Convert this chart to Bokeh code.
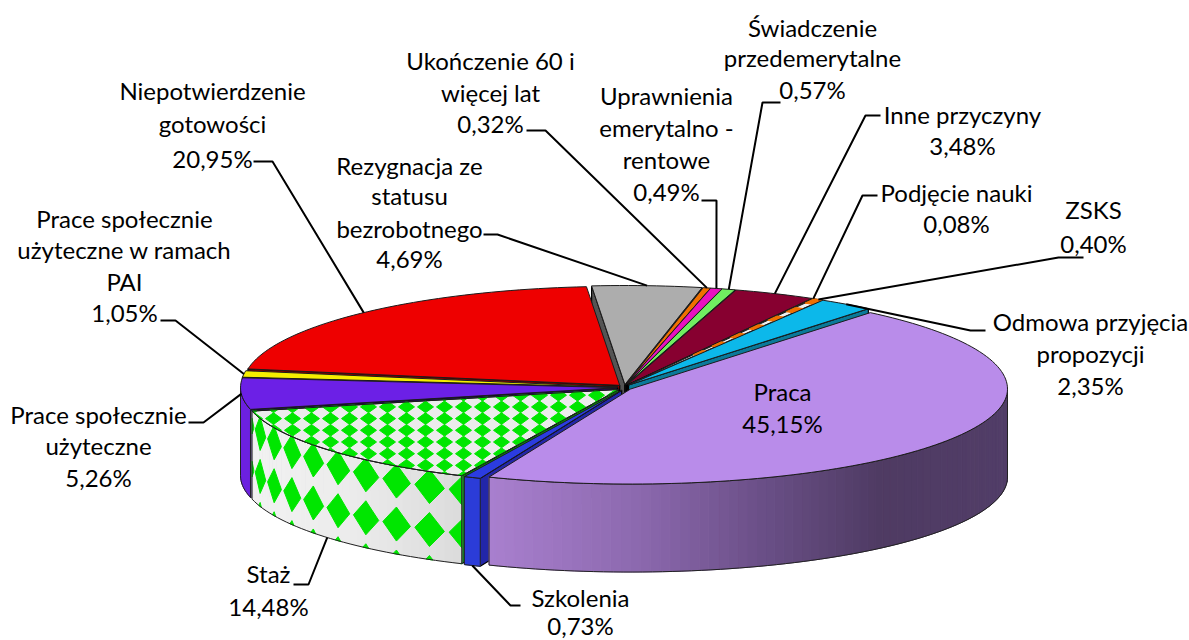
import numpy as np
from bokeh.plotting import figure
from bokeh.models import Range1d
from bokeh.core.properties import value
from bokeh.embed import file_html
from bokeh.resources import INLINE

# ---- data -----------------------------------------------------------------
categories = ["Praca", "Szkolenia", "Staż", "Prace społecznie użyteczne",
              "Prace społecznie użyteczne w ramach PAI", "Niepotwierdzenie gotowości",
              "Rezygnacja ze statusu bezrobotnego", "Ukończenie 60 i więcej lat",
              "Uprawnienia emerytalno - rentowe", "Świadczenie przedemerytalne",
              "Inne przyczyny", "Podjęcie nauki", "ZSKS", "Odmowa przyjęcia propozycji"]
values = [45.15, 0.73, 14.48, 5.26, 1.05, 20.95, 4.69, 0.32, 0.49, 0.57, 3.48, 0.08, 0.40, 2.35]
label_lines = [["Praca"], ["Szkolenia"], ["Staż"], ["Prace społecznie", "użyteczne"],
               ["Prace społecznie", "użyteczne w ramach", "PAI"],
               ["Niepotwierdzenie", "gotowości"], ["Rezygnacja ze", "statusu", "bezrobotnego"],
               ["Ukończenie 60 i", "więcej lat"], ["Uprawnienia", "emerytalno -", "rentowe"],
               ["Świadczenie", "przedemerytalne"], ["Inne przyczyny"], ["Podjęcie nauki"],
               ["ZSKS"], ["Odmowa przyjęcia", "propozycji"]]
top_colors = ["#b98cea", "#2b3ce0", "#ececec", "#6c20e6", "#f6ee00", "#ee0000", "#adadad",
              "#f07000", "#e812c0", "#70ee60", "#870030", "#f07000", "#f0f0f0", "#0cb8ea"]
wall_colors = ["#8a68ad", "#2b3cd8", "#e6e6e6", "#6c20e0", "#c0b800", "#b00000", "#808080",
               "#b05000", "#a00880", "#50b040", "#600020", "#b05000", "#c0c0c0", "#0a88aa"]
cut_colors = ["#6b5088", "#2226a8", "#0b8a0b", "#2a0d6e", "#8a8400", "#800000", "#545454",
              "#a04800", "#90087a", "#40a030", "#500018", "#a04800", "#a0a0a0", "#0a7a9a"]

# ---- layout ---------------------------------------------------------------
CX, CY, RX, RY_FRONT, RY_BACK, DEPTH = 624.0, 387.0, 377.0, 95.0, 99.0, 88.0
EX, EY, START = 7.0, 3.0, 39.5
draw_order = [6, 7, 8, 9, 10, 11, 12, 13, 5, 4, 3, 2, 1, 0]
label_pos = {  # centre x, y of each text line
    0: (782, [391, 423]), 1: (580, [597, 625]), 2: (268, [573, 606]),
    3: (98, [414, 445, 477]), 4: (124, [218, 249, 281, 312]), 5: (212, [90, 123, 158]),
    6: (409, [165, 195, 228, 258]), 7: (490, [60, 92, 123]), 8: (666, [95, 127, 159, 191]),
    9: (812, [27, 57, 89]), 10: (962, [114, 145]), 11: (956, [192, 223]),
    12: (1093, [209, 243]), 13: (1090, [321, 353, 385]),
}
leader_elbows = {  # text end, elbow; the third point is computed on the rim
    1: [(520, 605), (510, 605)], 2: [(293, 584), (308, 584)], 3: [(188, 422), (203, 422)],
    4: [(160, 320), (175, 320)], 5: [(253, 161), (272, 161)], 6: [(483, 234), (497, 234)],
    7: [(526, 130), (545, 130)], 8: [(701, 200), (716, 200)], 9: [(780, 102), (762, 102)],
    10: [(880, 115), (865, 115)], 11: [(877, 195), (862, 195)], 12: [(1083, 257), (1058, 257)],
    13: [(985, 330), (970, 330)],
}

W, H = 1189, 640
p = figure(width=W, height=H, x_range=Range1d(0, W), y_range=Range1d(H, 0),
           output_backend="svg", toolbar_location=None, min_border=0,
           background_fill_color="white", border_fill_color="white", outline_line_color=None)
p.axis.visible = False
p.grid.visible = False

total = sum(values)
edges = START + 360.0 * np.concatenate([[0], np.cumsum(values)]) / total


def centre(i):
    m = np.radians((edges[i] + edges[i + 1]) / 2)
    return CX + EX * np.sin(m), CY - EY * np.cos(m)


def rim(i, a, r=1.0, v=0.0):
    c = centre(i)
    t = np.radians(a)
    ry = RY_BACK if np.cos(t) > 0 else RY_FRONT
    return c[0] + r * RX * np.sin(t), c[1] - r * ry * np.cos(t) + v


def poly(pts, fill, line="#222222", lw=1.0):
    xs, ys = zip(*pts)
    p.patch(list(xs), list(ys), fill_color=fill, line_color=line if line else fill,
            line_width=lw if line else 1.0)


def clip(subject, clipper):
    """Sutherland-Hodgman against a convex polygon."""
    area = sum(clipper[k][0] * clipper[(k + 1) % len(clipper)][1]
               - clipper[(k + 1) % len(clipper)][0] * clipper[k][1] for k in range(len(clipper)))
    sgn = 1 if area > 0 else -1
    out = subject
    for k in range(len(clipper)):
        A, B = clipper[k], clipper[(k + 1) % len(clipper)]
        inside = lambda P: sgn * ((B[0] - A[0]) * (P[1] - A[1]) - (B[1] - A[1]) * (P[0] - A[0])) >= 0
        new = []
        for j in range(len(out)):
            P, Q = out[j], out[(j + 1) % len(out)]
            if inside(P):
                new.append(P)
            if inside(P) != inside(Q):
                d1 = (B[0] - A[0]) * (P[1] - A[1]) - (B[1] - A[1]) * (P[0] - A[0])
                d2 = (B[0] - A[0]) * (Q[1] - A[1]) - (B[1] - A[1]) * (Q[0] - A[0])
                s = d1 / (d1 - d2)
                new.append((P[0] + s * (Q[0] - P[0]), P[1] + s * (Q[1] - P[1])))
        out = new
        if not out:
            return []
    return out


def hexcol(h):
    return np.array([int(h[k:k + 2], 16) for k in (1, 3, 5)], float)


def mix(stops, x):
    xs = [s[0] for s in stops]
    cs = np.array([hexcol(s[1]) for s in stops])
    rgb = [int(np.interp(x, xs, cs[:, k])) for k in range(3)]
    return "#%02x%02x%02x" % tuple(rgb)


praca_stops = [(490, "#a980cf"), (640, "#8c69ae"), (760, "#6b5088"), (880, "#4f3b63"), (1010, "#523e68")]
staz_stops = [(250, "#f2f2f2"), (350, "#ececec"), (460, "#dcdcdc")]


def arc(i, a0, a1, v=0.0, n=None):
    n = n or max(2, int(abs(a1 - a0) / 1.5) + 2)
    return [rim(i, a, 1.0, v) for a in np.linspace(a0, a1, n)]


def front_range(i):
    """Part of the slice's rim that is on the viewer's side (90..270 deg)."""
    a0, a1 = edges[i], edges[i + 1]
    lo, hi = max(a0, 90.0), min(a1, 270.0)
    return (lo, hi) if hi > lo else None


for i in draw_order:
    a0, a1 = edges[i], edges[i + 1]
    apex = centre(i)
    apex_b = (apex[0], apex[1] + DEPTH)
    a0n = a0 % 360
    a1n = a1 % 360
    # cut faces
    if 180 < a0n < 360:
        e = rim(i, a0)
        poly([apex, e, (e[0], e[1] + DEPTH), apex_b], cut_colors[i], "#000000", 1.2)
    if 0 < a1n < 180:
        e = rim(i, a1)
        poly([apex, e, (e[0], e[1] + DEPTH), apex_b], cut_colors[i], "#000000", 1.2)
    # outer wall
    fr = front_range(i)
    if fr:
        lo, hi = fr
        if i in (0, 2):
            stops = praca_stops if i == 0 else staz_stops
            aa = np.arange(lo, hi + 1.5, 1.5)
            aa[-1] = hi
            for b0, b1 in zip(aa[:-1], aa[1:]):
                P, Q = rim(i, b0), rim(i, b1)
                poly([P, Q, (Q[0], Q[1] + DEPTH), (P[0], P[1] + DEPTH)],
                     mix(stops, (P[0] + Q[0]) / 2), None)
        else:
            top = arc(i, lo, hi)
            bot = arc(i, hi, lo, DEPTH)
            poly(top + bot, wall_colors[i], None)
        if i == 2:
            # wall pattern: columns of diamonds in (angle, height) space
            for col in np.arange(204.2, hi + 3, 6.0):
                for v in (15, 58, 101):
                    d = [(col - 2.6, v), (col, v - 17), (col + 2.6, v), (col, v + 17)]
                    box = [(lo, 0), (hi, 0), (hi, DEPTH), (lo, DEPTH)]
                    c = clip(d, box)
                    if len(c) >= 3:
                        poly([rim(i, q[0], 1.0, q[1]) for q in c], "#00e600", None)
        outline = arc(i, lo, hi) + arc(i, hi, lo, DEPTH)
        xs, ys = zip(*(outline + outline[:1]))
        p.line(list(xs), list(ys), line_color="#222222", line_width=1.0)
    # top
    top_pts = [apex] + arc(i, a0, a1)
    poly(top_pts, top_colors[i], "#1c1c1c", 1.0)
    if i == 2:
        for gx in np.arange(235, 640, 19.0):
            for gy in np.arange(383, 490, 11.7):
                d = [(gx - 8, gy), (gx, gy - 5.8), (gx + 8, gy), (gx, gy + 5.8)]
                c = clip(d, top_pts)
                if len(c) >= 3:
                    poly(c, "#00e600", None)
        xs, ys = zip(*(top_pts + top_pts[:1]))
        p.line(list(xs), list(ys), line_color="#1c1c1c", line_width=1.0)
    if i == 12:
        # light slice with an orange dashed pattern, banded along the radius
        bands = np.linspace(0.35, 1.0, 14)
        for k, (r0, r1) in enumerate(zip(bands[:-1], bands[1:])):
            if k % 2 == 0:
                poly([rim(i, a0, r0), rim(i, a1, r0), rim(i, a1, r1), rim(i, a0, r1)], "#f07000", None)

# ---- leaders ---------------------------------------------------------------
for i, pts in leader_elbows.items():
    m = (edges[i] + edges[i + 1]) / 2
    end = rim(i, m, 1.0, DEPTH if i in (1, 2) else 0.0)
    xs, ys = zip(*(pts + [end]))
    p.line(list(xs), list(ys), line_color="#000000", line_width=2.0)

# ---- labels ----------------------------------------------------------------
tx, ty, tt = [], [], []
for i, (cx, ys) in label_pos.items():
    txt = label_lines[i] + [f"{values[i]:.2f}".replace(".", ",") + "%"]
    for s, y in zip(txt, ys):
        tx.append(cx); ty.append(y); tt.append(s)
p.text(tx, ty, text=tt, text_font=value("Lato"), text_font_size="24px", text_color="#000000",
       text_align="center", text_baseline="middle")

open("out.html", "w").write(file_html(p, INLINE))
